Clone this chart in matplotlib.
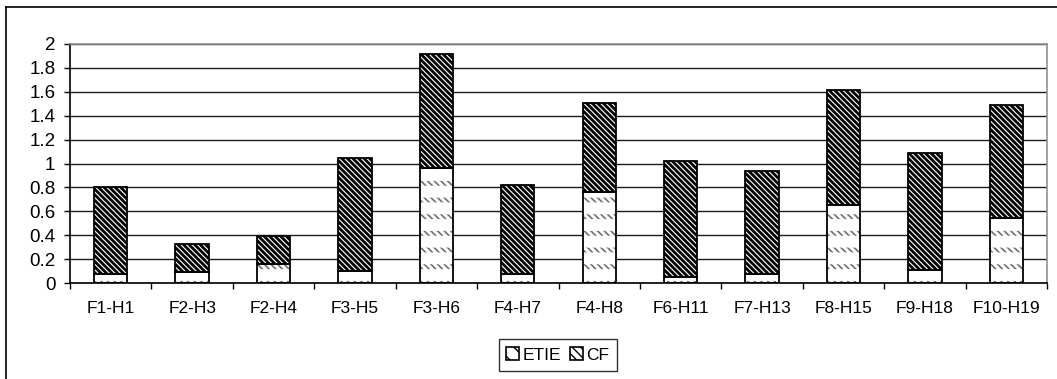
import matplotlib
matplotlib.use("Agg")
import matplotlib.pyplot as plt
import numpy as np
from matplotlib.lines import Line2D
from matplotlib.patches import Patch

categories = ["F1-H1", "F2-H3", "F2-H4", "F3-H5", "F3-H6", "F4-H7",
              "F4-H8", "F6-H11", "F7-H13", "F8-H15", "F9-H18", "F10-H19"]
etie = [0.075, 0.095, 0.155, 0.10, 0.96, 0.073, 0.76, 0.053, 0.073, 0.655, 0.11, 0.54]
total = [0.805, 0.33, 0.39, 1.05, 1.915, 0.817, 1.505, 1.025, 0.937, 1.618, 1.085, 1.487]
cf = [t - e for t, e in zip(total, etie)]
yticks = [0, 0.2, 0.4, 0.6, 0.8, 1, 1.2, 1.4, 1.6, 1.8, 2]
ytick_labels = ["0", "0.2", "0.4", "0.6", "0.8", "1", "1.2", "1.4", "1.6", "1.8", "2"]

plt.rcParams["font.family"] = ["Liberation Sans", "DejaVu Sans"]

fig = plt.figure(figsize=(10.57, 3.79), dpi=100)
ax = fig.add_axes([70 / 1057, 1 - 283 / 379, (1047 - 70) / 1057, (283 - 44) / 379])

x = np.arange(len(categories))
w = 0.41


def hatched_bar(heights, bottom, hatch, color, lw):
    with plt.rc_context({"hatch.linewidth": lw}):
        bars = ax.bar(x, heights, w, bottom=bottom, color="none", edgecolor=color,
                      hatch=hatch, linewidth=0, zorder=3)
    for b in bars:
        if hasattr(b, "set_hatch_linewidth"):
            b.set_hatch_linewidth(lw)
    return bars


# ETIE: rows of short grey diagonal dashes on white
ax.bar(x, etie, w, color="white", linewidth=0, zorder=2)
hatched_bar(etie, 0, "\\" * 5, "#6e6e6e", 1.2)
hatched_bar(etie, 0, "-", "white", 8.5)
ax.bar(x, etie, w, color="none", edgecolor="black", linewidth=1.3, zorder=4)

# CF: dense dark diagonal stripes stacked on top
ax.bar(x, cf, w, bottom=etie, color="white", linewidth=0, zorder=2)
hatched_bar(cf, etie, "\\" * 6, "black", 2.0)
ax.bar(x, cf, w, bottom=etie, color="none", edgecolor="black", linewidth=1.3, zorder=4)

ax.set_xlim(-0.5, len(categories) - 0.5)
ax.set_ylim(0, 2)
ax.set_yticks(yticks)
ax.set_yticklabels(ytick_labels, fontsize=13.5)
ax.set_xticks(x)
ax.set_xticklabels(categories, fontsize=12.5)
ax.set_xticks(np.arange(-0.5, len(categories), 1), minor=True)
ax.tick_params(axis="x", which="major", length=0, pad=13)
ax.tick_params(axis="x", which="minor", length=4.5, width=1, direction="out")
ax.tick_params(axis="y", length=4.5, width=1, direction="out", pad=6)

ax.grid(axis="y", color="#1a1a1a", linewidth=1.0, zorder=0)
ax.set_axisbelow(True)
for s in ("top", "right"):
    ax.spines[s].set_color("#909090")
    ax.spines[s].set_linewidth(1.2)
for s in ("left", "bottom"):
    ax.spines[s].set_color("black")
    ax.spines[s].set_linewidth(1.2)

with plt.rc_context({"hatch.linewidth": 1.2}):
    handles = [Patch(facecolor="white", edgecolor="black", hatch="\\\\", linewidth=1.2),
               Patch(facecolor="white", edgecolor="black", hatch="\\" * 4, linewidth=1.2)]
leg = fig.legend(handles, ["ETIE", "CF"], loc="center", bbox_to_anchor=(558 / 1057, 1 - 355 / 379),
                 ncol=2, fontsize=12.5, frameon=True, fancybox=False, edgecolor="black",
                 handlelength=0.75, handleheight=0.75, handletextpad=0.2, columnspacing=0.5,
                 borderpad=0.45, borderaxespad=0)
leg.get_frame().set_linewidth(1.0)

# outer chart frame
fig.add_artist(Line2D([6 / 1057, 6 / 1057], [0, 1 - 7 / 379], transform=fig.transFigure,
                      color="black", linewidth=1.2))
fig.add_artist(Line2D([6 / 1057, 1], [1 - 7 / 379, 1 - 7 / 379], transform=fig.transFigure,
                      color="black", linewidth=1.2))

fig.savefig("out.png", dpi=100)
